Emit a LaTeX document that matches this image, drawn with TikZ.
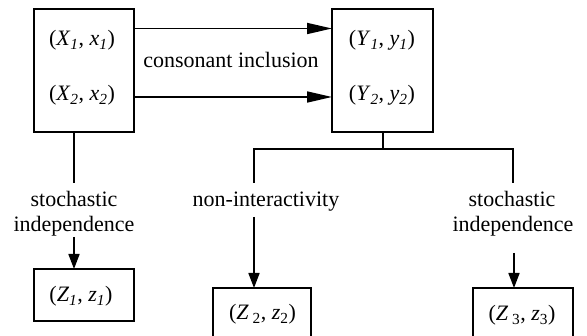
\documentclass[tikz,border=0pt]{standalone}
\usepackage{fontspec}
\setmainfont{Liberation Serif}
\usetikzlibrary{arrows.meta}
\begin{document}
\begin{tikzpicture}[x=1pt,y=-1pt,line width=1.7pt,
  box/.style={draw,rectangle,inner sep=0pt,outer sep=0pt},
  lbl/.style={anchor=base,inner sep=0pt,font=\fontsize{22}{25}\selectfont},
  harrow/.style={-{Triangle[length=25pt,width=11pt]}},
  varrow/.style={-{Triangle[length=15pt,width=11pt]}}]
\useasboundingbox (0,0) rectangle (587,336);
\clip (0,0) rectangle (587,336);
% boxes
\node[box,minimum width=100pt,minimum height=123pt] (X) at (84,70.5) {};
\node[box,minimum width=101pt,minimum height=123pt] (Y) at (382.5,70.5) {};
\node[box,minimum width=100pt,minimum height=52pt] (Z1) at (84,295) {};
\node[box,minimum width=98pt,minimum height=62pt] (Z2) at (262,319) {};
\node[box,minimum width=100pt,minimum height=62pt] (Z3) at (523,319) {};
% box texts
\node[lbl] (tx1) at (82,46) {(\textit{X}\textsubscript{\textit{1}}, \textit{x}\textsubscript{\textit{1}})};
\node[lbl] (tx2) at (82,101) {(\textit{X}\textsubscript{\textit{2}}, \textit{x}\textsubscript{\textit{2}})};
\node[lbl] (ty1) at (382,46) {(\textit{Y}\textsubscript{\textit{1}}, \textit{y}\textsubscript{\textit{1}})};
\node[lbl] (ty2) at (382,101) {(\textit{Y}\textsubscript{\textit{2}}, \textit{y}\textsubscript{\textit{2}})};
\node[lbl] (tz1) at (81,302) {(\textit{Z}\textsubscript{\textit{1}}, \textit{z}\textsubscript{\textit{1}})};
\node[lbl] (tz2) at (262.5,320) {(\textit{Z}\,\textsubscript{2}, \textit{z}\textsubscript{2})};
\node[lbl] (tz3) at (522,321) {(\textit{Z}\,\textsubscript{3}, \textit{z}\textsubscript{3})};
% edge labels
\node[lbl] (ci) at (231,67.5) {consonant inclusion};
\node[lbl] (s1a) at (74,207) {stochastic};
\node[lbl] (s1b) at (74,232) {independence};
\node[lbl] (ni) at (266,207) {non-interactivity};
\node[lbl] (s3a) at (512,207) {stochastic};
\node[lbl] (s3b) at (513,232) {independence};
% coordinates
\coordinate (ya1) at (0,28.5);
\coordinate (ya2) at (0,97);
\coordinate (l1) at (74,183);
\coordinate (l2) at (74,237);
\coordinate (j) at (383,149);
\coordinate (jl) at (254,149);
\coordinate (jr) at (513,149);
\coordinate (m1) at (254,183);
\coordinate (m2) at (254,217);
\coordinate (r1) at (513,183);
\coordinate (r2) at (514,253);
% connectors
\draw[harrow] (X.east |- ya1) -- (Y.west |- ya1);
\draw[harrow] (X.east |- ya2) -- (Y.west |- ya2);
\draw (X.south -| l1) -- (l1);
\draw[varrow] (l2) -- (Z1.north -| l2);
\draw (Y.south -| j) -- (j);
\draw (m1) -- (jl) -- (jr) -- (r1);
\draw[varrow] (m2) -- (Z2.north -| m2);
\draw[varrow] (r2) -- (Z3.north -| r2);
\end{tikzpicture}
\end{document}
